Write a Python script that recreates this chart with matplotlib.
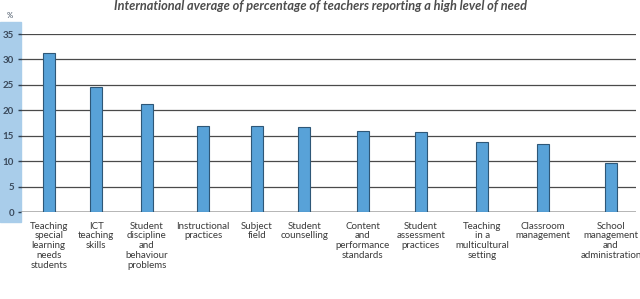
import matplotlib
matplotlib.use("Agg")
import matplotlib.pyplot as plt
from matplotlib.patches import Rectangle

# data
categories = ["Teaching\nspecial\nlearning\nneeds\nstudents", "ICT\nteaching\nskills",
              "Student\ndiscipline\nand\nbehaviour\nproblems", "Instructional\npractices",
              "Subject\nfield", "Student\ncounselling", "Content\nand\nperformance\nstandards",
              "Student\nassessment\npractices", "Teaching\nin a\nmulticultural\nsetting",
              "Classroom\nmanagement", "School\nmanagement\nand\nadministration"]
values = [31.2, 24.5, 21.3, 17.0, 16.9, 16.7, 16.0, 15.7, 13.8, 13.4, 9.7]
yticks = [0, 5, 10, 15, 20, 25, 30, 35]

# layout: bar centres (the source spaces them unevenly, in axis pixels)
xpos = [27.7, 75.3, 125.7, 182.3, 236, 283.3, 341.7, 399.7, 461.3, 522.3, 590]

plt.rcParams["font.family"] = ["Lato", "DejaVu Sans"]
W, H = 640, 299
fig = plt.figure(figsize=(W / 100, H / 100), dpi=100)

# light blue panel behind the y labels
fig.patches.append(Rectangle((0, (H - 222) / H), 21 / W, 200 / H,
                             transform=fig.transFigure, color="#a9cdea", zorder=-5))

ax = fig.add_axes([21 / W, (H - 212) / H, 615 / W, 178 / H])
ax.patch.set_alpha(0)
ax.set_xlim(0, 615)
ax.set_ylim(0, 35)

for y in yticks[1:]:
    ax.axhline(y, color="#4a4a4a", lw=0.9, zorder=1)
ax.axhline(0, color="#a0a0a0", lw=1.8, zorder=1)

ax.bar(xpos, values, width=12, color="#58a2d8", edgecolor="#2e5777",
       linewidth=0.8, zorder=2)

ax.set_yticks(yticks)
ax.set_yticklabels([str(v) for v in yticks], fontsize=7, fontweight="bold",
                   color="#3b4a5c")
ax.tick_params(axis="y", length=2, width=1, color="#2c3e50", pad=3)

ax.set_xticks(xpos)
ax.set_xticklabels(categories, fontsize=7, color="#3a3a3a",
                   linespacing=1.1, va="top")
ax.tick_params(axis="x", length=0, pad=7)

for s in ax.spines.values():
    s.set_visible(False)

fig.text(10 / W, 1 - 16 / H, "%", fontsize=5.5, color="#3b4a5c",
         ha="center", va="center")
fig.text(0.5, 1 - 6 / H,
         "International average of percentage of teachers reporting a high level of need",
         fontsize=9.2, fontweight="bold", style="italic", color="#4d4d4d",
         ha="center", va="center")

fig.savefig("out.png", dpi=100)
